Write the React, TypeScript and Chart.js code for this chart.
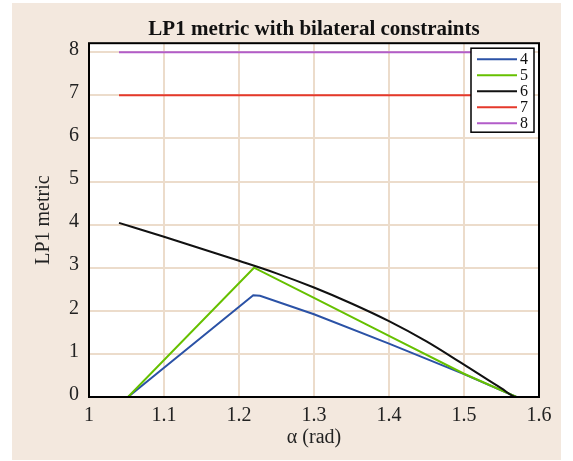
import { useEffect, useRef } from 'react';
import { Chart, registerables } from 'chart.js';

Chart.register(...registerables);

const TITLE = 'LP1 metric with bilateral constraints';
const X_TITLE = 'α (rad)';
const Y_TITLE = 'LP1 metric';

const seriesLabels = ['4', '5', '6', '7', '8'];
const seriesColors = ['#2b52a6', '#66c000', '#111111', '#e5392b', '#b25cc9'];
const seriesSmooth = [false, false, true, false, false];

const alpha4 = [1.04, 1.052, 1.219, 1.228, 1.3, 1.4, 1.5, 1.57, 1.59];
const lp4 = [0, 0, 2.36, 2.35, 1.92, 1.24, 0.53, 0, 0];

const alpha5 = [1.04, 1.052, 1.22, 1.3, 1.4, 1.5, 1.57, 1.59];
const lp5 = [0, 0, 3.0, 2.3, 1.42, 0.54, 0, 0];

const alpha6 = [1.04, 1.1, 1.15, 1.2, 1.25, 1.3, 1.35, 1.4, 1.45, 1.5, 1.55, 1.57, 1.59];
const lp6 = [4.04, 3.72, 3.44, 3.16, 2.87, 2.54, 2.17, 1.76, 1.29, 0.75, 0.2, 0, 0];

const alpha7 = [1.04, 1.59];
const lp7 = [7, 7];

const alpha8 = [1.04, 1.59];
const lp8 = [8, 8];

const xTicks = [1, 1.1, 1.2, 1.3, 1.4, 1.5, 1.6];
const xTickLabels = ['1', '1.1', '1.2', '1.3', '1.4', '1.5', '1.6'];
const yTicks = [0, 1, 2, 3, 4, 5, 6, 7, 8];
const yTickLabels = ['0', '1', '2', '3', '4', '5', '6', '7', '8'];

const FONT = '"Liberation Serif", "Times New Roman", serif';
const BEIGE = '#f3e8de';
const GRID = '#ecdccb';

const toPoints = (xs: number[], ys: number[]) => xs.map((x, i) => ({ x, y: ys[i] }));

export default function App() {
  const ref = useRef<HTMLCanvasElement | null>(null);

  useEffect(() => {
    if (!ref.current) return;
    const seriesX = [alpha4, alpha5, alpha6, alpha7, alpha8];
    const seriesY = [lp4, lp5, lp6, lp7, lp8];

    const bgPlugin = {
      id: 'bgPlugin',
      beforeDraw(chart: any) {
        const { ctx, chartArea } = chart;
        ctx.save();
        ctx.fillStyle = BEIGE;
        ctx.fillRect(12, 3, 549, 457);
        ctx.fillStyle = '#ffffff';
        ctx.fillRect(chartArea.left, chartArea.top, chartArea.right - chartArea.left, chartArea.bottom - chartArea.top);
        ctx.restore();
      },
      afterDatasetsDraw(chart: any) {
        const { ctx, chartArea } = chart;
        ctx.save();
        ctx.strokeStyle = '#000';
        ctx.lineWidth = 2;
        ctx.strokeRect(chartArea.left, chartArea.top, chartArea.right - chartArea.left, chartArea.bottom - chartArea.top);
        ctx.restore();
      },
      afterDraw(chart: any) {
        const { ctx, chartArea } = chart;
        const bl = chartArea.right - 68;
        const bt = chartArea.top + 5;
        const bw = 63;
        const bh = 84;
        ctx.save();
        ctx.fillStyle = '#fff';
        ctx.fillRect(bl, bt, bw, bh);
        ctx.strokeStyle = '#000';
        ctx.lineWidth = 1.5;
        ctx.strokeRect(bl, bt, bw, bh);
        ctx.font = `16px ${FONT}`;
        ctx.textBaseline = 'middle';
        ctx.textAlign = 'left';
        chart.data.datasets.forEach((ds: any, i: number) => {
          const y = bt + 11 + i * 16;
          ctx.strokeStyle = ds.borderColor;
          ctx.lineWidth = 2;
          ctx.beginPath();
          ctx.moveTo(bl + 6, y);
          ctx.lineTo(bl + 46, y);
          ctx.stroke();
          ctx.fillStyle = '#111';
          ctx.fillText(ds.label, bl + 49, y + 0.5);
        });
        ctx.restore();
      },
    };

    const chart = new Chart(ref.current, {
      type: 'line',
      data: {
        datasets: seriesLabels.map((label, i) => ({
          label,
          data: toPoints(seriesX[i], seriesY[i]),
          borderColor: seriesColors[i],
          backgroundColor: seriesColors[i],
          borderWidth: 2,
          pointRadius: 0,
          tension: 0,
          cubicInterpolationMode: seriesSmooth[i] ? 'monotone' : 'default',
          fill: false,
          order: seriesLabels.length - i,
        })),
      },
      options: {
        animation: false,
        responsive: false,
        devicePixelRatio: 1,
        layout: { padding: { left: 12, right: 34, top: 0, bottom: 1 } },
        plugins: {
          legend: { display: false },
          tooltip: { enabled: false },
          title: {
            display: true,
            text: TITLE,
            fullSize: false,
            color: '#111',
            font: { family: FONT, size: 21, weight: 'bold' },
            padding: { top: 17, bottom: 1 },
          },
        },
        scales: {
          x: {
            type: 'linear',
            min: 1,
            max: 1.6,
            afterFit: (s: any) => {
              s.height = 63;
            },
            afterBuildTicks: (s: any) => {
              s.ticks = xTicks.map((v) => ({ value: v }));
            },
            ticks: {
              color: '#222',
              font: { family: FONT, size: 20 },
              padding: 7,
              maxRotation: 0,
              autoSkip: false,
              callback: (_v: any, i: number) => xTickLabels[i],
            },
            grid: { color: GRID, lineWidth: 2, drawTicks: false },
            border: { display: false },
            title: {
              display: true,
              text: X_TITLE,
              color: '#222',
              font: { family: FONT, size: 20 },
              padding: { top: 0, bottom: 10.5 },
            },
          },
          y: {
            type: 'linear',
            min: 0,
            max: 8.21,
            afterFit: (s: any) => {
              s.width = 77;
            },
            afterBuildTicks: (s: any) => {
              s.ticks = yTicks.map((v) => ({ value: v }));
            },
            ticks: {
              color: '#222',
              font: { family: FONT, size: 20 },
              padding: 10,
              labelOffset: -2.5,
              autoSkip: false,
              callback: (_v: any, i: number) => yTickLabels[i],
            },
            grid: { color: GRID, lineWidth: 2, drawTicks: false },
            border: { display: false },
            title: {
              display: true,
              text: Y_TITLE,
              color: '#222',
              font: { family: FONT, size: 20 },
              padding: { top: 20, bottom: 0 },
            },
          },
        },
      },
      plugins: [bgPlugin],
    } as any);

    return () => chart.destroy();
  }, []);

  return (
    <div style={{ position: 'fixed', left: 0, top: 0, width: 573, height: 461, background: '#fff' }}>
      <canvas ref={ref} width={573} height={461} style={{ display: 'block', width: 573, height: 461 }} />
    </div>
  );
}
